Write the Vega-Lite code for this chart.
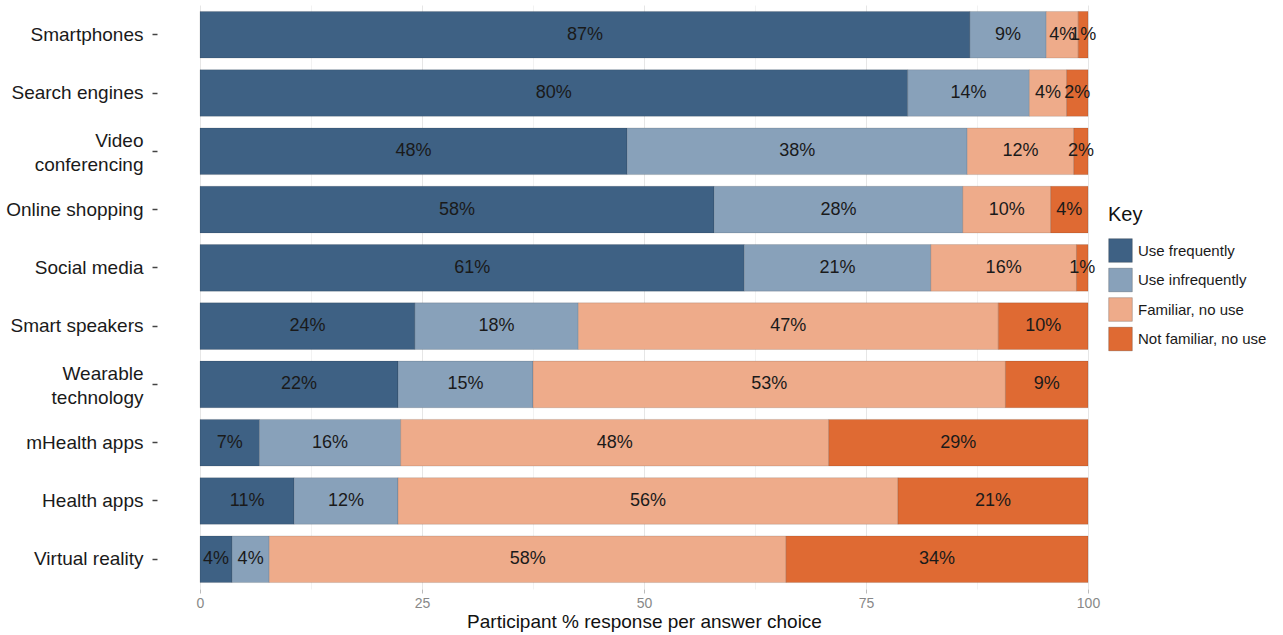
{
  "$schema": "https://vega.github.io/schema/vega-lite/v6.json",
  "autosize": {"type": "none"},
  "width": 888,
  "height": 584,
  "padding": {"left": 200, "top": 5, "right": 195, "bottom": 46},
  "data": {
    "values": [
      {"tech": "Smartphones", "response": "Use frequently", "k": 1, "value": 86.7, "label": "87%"},
      {"tech": "Smartphones", "response": "Use infrequently", "k": 2, "value": 8.6, "label": "9%"},
      {"tech": "Smartphones", "response": "Familiar, no use", "k": 3, "value": 3.6, "label": "4%"},
      {"tech": "Smartphones", "response": "Not familiar, no use", "k": 4, "value": 1.1, "label": "1%"},
      {"tech": "Search engines", "response": "Use frequently", "k": 1, "value": 79.7, "label": "80%"},
      {"tech": "Search engines", "response": "Use infrequently", "k": 2, "value": 13.7, "label": "14%"},
      {"tech": "Search engines", "response": "Familiar, no use", "k": 3, "value": 4.2, "label": "4%"},
      {"tech": "Search engines", "response": "Not familiar, no use", "k": 4, "value": 2.4, "label": "2%"},
      {"tech": "Video conferencing", "response": "Use frequently", "k": 1, "value": 48.1, "label": "48%"},
      {"tech": "Video conferencing", "response": "Use infrequently", "k": 2, "value": 38.3, "label": "38%"},
      {"tech": "Video conferencing", "response": "Familiar, no use", "k": 3, "value": 12.0, "label": "12%"},
      {"tech": "Video conferencing", "response": "Not familiar, no use", "k": 4, "value": 1.6, "label": "2%"},
      {"tech": "Online shopping", "response": "Use frequently", "k": 1, "value": 57.9, "label": "58%"},
      {"tech": "Online shopping", "response": "Use infrequently", "k": 2, "value": 28.0, "label": "28%"},
      {"tech": "Online shopping", "response": "Familiar, no use", "k": 3, "value": 9.9, "label": "10%"},
      {"tech": "Online shopping", "response": "Not familiar, no use", "k": 4, "value": 4.2, "label": "4%"},
      {"tech": "Social media", "response": "Use frequently", "k": 1, "value": 61.3, "label": "61%"},
      {"tech": "Social media", "response": "Use infrequently", "k": 2, "value": 21.0, "label": "21%"},
      {"tech": "Social media", "response": "Familiar, no use", "k": 3, "value": 16.4, "label": "16%"},
      {"tech": "Social media", "response": "Not familiar, no use", "k": 4, "value": 1.3, "label": "1%"},
      {"tech": "Smart speakers", "response": "Use frequently", "k": 1, "value": 24.2, "label": "24%"},
      {"tech": "Smart speakers", "response": "Use infrequently", "k": 2, "value": 18.4, "label": "18%"},
      {"tech": "Smart speakers", "response": "Familiar, no use", "k": 3, "value": 47.3, "label": "47%"},
      {"tech": "Smart speakers", "response": "Not familiar, no use", "k": 4, "value": 10.1, "label": "10%"},
      {"tech": "Wearable technology", "response": "Use frequently", "k": 1, "value": 22.3, "label": "22%"},
      {"tech": "Wearable technology", "response": "Use infrequently", "k": 2, "value": 15.2, "label": "15%"},
      {"tech": "Wearable technology", "response": "Familiar, no use", "k": 3, "value": 53.2, "label": "53%"},
      {"tech": "Wearable technology", "response": "Not familiar, no use", "k": 4, "value": 9.3, "label": "9%"},
      {"tech": "mHealth apps", "response": "Use frequently", "k": 1, "value": 6.7, "label": "7%"},
      {"tech": "mHealth apps", "response": "Use infrequently", "k": 2, "value": 15.9, "label": "16%"},
      {"tech": "mHealth apps", "response": "Familiar, no use", "k": 3, "value": 48.2, "label": "48%"},
      {"tech": "mHealth apps", "response": "Not familiar, no use", "k": 4, "value": 29.2, "label": "29%"},
      {"tech": "Health apps", "response": "Use frequently", "k": 1, "value": 10.6, "label": "11%"},
      {"tech": "Health apps", "response": "Use infrequently", "k": 2, "value": 11.7, "label": "12%"},
      {"tech": "Health apps", "response": "Familiar, no use", "k": 3, "value": 56.3, "label": "56%"},
      {"tech": "Health apps", "response": "Not familiar, no use", "k": 4, "value": 21.4, "label": "21%"},
      {"tech": "Virtual reality", "response": "Use frequently", "k": 1, "value": 3.6, "label": "4%"},
      {"tech": "Virtual reality", "response": "Use infrequently", "k": 2, "value": 4.2, "label": "4%"},
      {"tech": "Virtual reality", "response": "Familiar, no use", "k": 3, "value": 58.2, "label": "58%"},
      {"tech": "Virtual reality", "response": "Not familiar, no use", "k": 4, "value": 34.0, "label": "34%"}
    ]
  },
  "transform": [
    {"stack": "value", "groupby": ["tech"], "sort": [{"field": "k", "order": "ascending"}], "as": ["x0", "x1"]}
  ],
  "encoding": {
    "y": {
      "field": "tech",
      "type": "nominal",
      "sort": ["Smartphones", "Search engines", "Video conferencing", "Online shopping", "Social media", "Smart speakers", "Wearable technology", "mHealth apps", "Health apps", "Virtual reality"],
      "scale": {"paddingInner": 0.2, "paddingOuter": 0.11},
      "axis": {
        "title": null,
        "domain": false,
        "grid": false,
        "offset": 43,
        "ticks": true,
        "tickSize": 5,
        "tickWidth": 1.5,
        "tickColor": "#444444",
        "labelPadding": 9,
        "labelFontSize": 19,
        "labelColor": "#1a1a1a",
        "labelLineHeight": 24,
        "labelOffset": {"condition": {"test": "datum.value == 'Video conferencing' || datum.value == 'Wearable technology'", "value": -10}, "value": 0},
        "labelExpr": "datum.label == 'Video conferencing' ? ['Video', 'conferencing'] : datum.label == 'Wearable technology' ? ['Wearable', 'technology'] : datum.label"
      }
    }
  },
  "layer": [
    {
      "mark": {"type": "bar", "stroke": "#000000", "strokeOpacity": 0.12, "strokeWidth": 1},
      "encoding": {
        "x": {
          "field": "x0",
          "type": "quantitative",
          "scale": {"domain": [0, 100], "nice": false, "zero": false},
          "axis": {
            "title": "Participant % response per answer choice",
            "titleFontSize": 19,
            "titleFontWeight": "normal",
            "titleColor": "#111111",
            "titlePadding": 2,
            "values": [0, 25, 50, 75, 100],
            "grid": true,
            "gridColor": "#e6e6e6",
            "gridWidth": 1,
            "domain": false,
            "tickSize": 4,
            "tickColor": "#bbbbbb",
            "labelPadding": 3,
            "labelFlush": false,
            "labelFontSize": 14,
            "labelColor": "#888888"
          }
        },
        "x2": {"field": "x1"},
        "color": {
          "field": "response",
          "type": "nominal",
          "scale": {
            "domain": ["Use frequently", "Use infrequently", "Familiar, no use", "Not familiar, no use"],
            "range": ["#3e6184", "#88a1ba", "#eeab8a", "#df6a33"]
          },
          "legend": {
            "title": "Key",
            "orient": "none",
            "legendX": 908,
            "legendY": 200,
            "titleFontSize": 20,
            "titleFontWeight": "normal",
            "titleColor": "#111111",
            "titlePadding": 13,
            "symbolType": "square",
            "symbolSize": 560,
            "symbolStrokeColor": "rgba(0,0,0,0.2)",
            "symbolStrokeWidth": 1,
            "symbolOpacity": 1,
            "rowPadding": 0.5,
            "labelFontSize": 15,
            "labelColor": "#1a1a1a",
            "labelOffset": 5
          }
        }
      }
    },
    {
      "transform": [
        {"fold": ["x0", "x1"], "as": ["edge", "pos"]},
        {"aggregate": [{"op": "mean", "field": "pos", "as": "mid"}], "groupby": ["tech", "response", "label"]}
      ],
      "mark": {"type": "text", "fontSize": 18, "color": "#1a1a1a", "align": "center", "baseline": "middle"},
      "encoding": {
        "x": {
          "field": "mid",
          "type": "quantitative",
          "axis": {
            "orient": "top",
            "title": null,
            "values": [12.5, 37.5, 62.5, 87.5],
            "grid": true,
            "gridColor": "#f2f2f2",
            "gridWidth": 1,
            "labels": false,
            "ticks": false,
            "domain": false
          }
        },
        "text": {"field": "label", "type": "nominal"}
      }
    }
  ],
  "resolve": {"axis": {"x": "independent"}},
  "config": {
    "font": "Liberation Sans",
    "view": {"stroke": null},
    "axis": {"labelFont": "Liberation Sans", "titleFont": "Liberation Sans"},
    "legend": {"labelFont": "Liberation Sans", "titleFont": "Liberation Sans"}
  }
}
